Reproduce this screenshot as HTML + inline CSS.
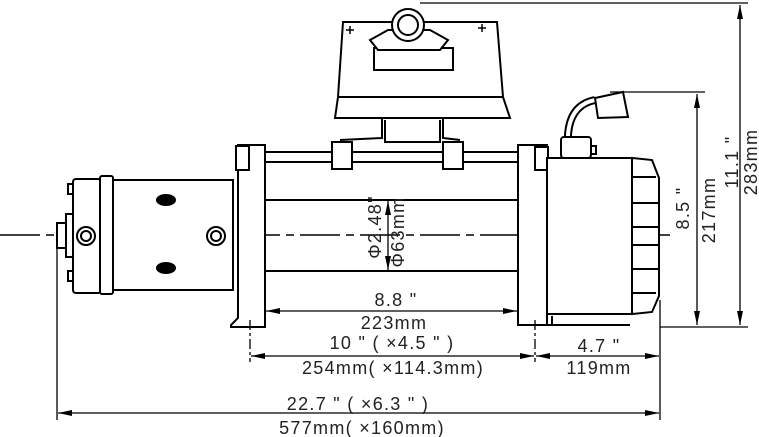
<!DOCTYPE html>
<html><head><meta charset="utf-8"><style>
html,body{margin:0;padding:0;background:#fff;}
svg{display:block;}
text{font-family:"Liberation Sans",sans-serif;font-size:18px;letter-spacing:1.3px;fill:#222;}
</style></head><body>
<svg width="759" height="437" viewBox="0 0 759 437" xmlns="http://www.w3.org/2000/svg">
<defs>
<marker id="a" markerWidth="14" markerHeight="6" refX="14" refY="3" orient="auto" markerUnits="userSpaceOnUse"><path d="M0,0 L14,3 L0,6 Z" fill="#000"/></marker>
<marker id="b" markerWidth="14" markerHeight="6" refX="0" refY="3" orient="auto" markerUnits="userSpaceOnUse"><path d="M14,0 L0,3 L14,6 Z" fill="#000"/></marker>
</defs>
<g stroke="#000" stroke-width="2" fill="#fff">
<line x1="0" y1="235" x2="670" y2="235" stroke-width="1.5" stroke-dasharray="40,6,8,6"/>
<rect x="57" y="223" width="11" height="25"/>
<rect x="66" y="214" width="8" height="43"/>
<rect x="68" y="184" width="6" height="10"/>
<rect x="68" y="271" width="6" height="10"/>
<rect x="73" y="179" width="28" height="114" rx="3"/>
<rect x="100" y="176" width="13" height="118" rx="2"/>
<rect x="113" y="180" width="120" height="110"/>
<circle cx="86" cy="236" r="9"/><circle cx="86" cy="236" r="5"/>
<circle cx="216" cy="236" r="9"/><circle cx="216" cy="236" r="5"/>
<ellipse cx="166" cy="200" rx="9" ry="5" fill="#000"/>
<ellipse cx="166" cy="268" rx="9" ry="5" fill="#000"/>
<line x1="265" y1="152" x2="520" y2="152"/>
<line x1="265" y1="162" x2="520" y2="162"/>
<rect x="332" y="142" width="20" height="27"/>
<rect x="443" y="142" width="20" height="27"/>
<line x1="265" y1="200" x2="518" y2="200"/>
<line x1="265" y1="271" x2="518" y2="271"/>
<path d="M238,170 L238,318 L231,325 L231,327 L265,327 L265,145 L238,145 Z"/>
<rect x="236" y="146" width="13" height="24"/>
<rect x="518" y="145" width="29" height="180"/>
<rect x="535" y="147" width="13" height="23"/>
<path d="M568,150 L568,135 Q570,105 595,100" fill="none" stroke-width="8"/>
<path d="M568,150 L568,135 Q570,105 595,100" fill="none" stroke="#fff" stroke-width="4"/>
<path d="M595,98 L623,92 L628,117 L598,118 Z"/>
<rect x="561" y="137" width="30" height="21" rx="3"/>
<rect x="591" y="146" width="5" height="8"/>
<rect x="547" y="158" width="85" height="156"/>
<line x1="552" y1="316" x2="552" y2="325"/>
<line x1="547" y1="325" x2="630" y2="325"/>
<path d="M632,158 L652,160 L659,178 L659,296 L652,312 L632,314 Z"/>
<g fill="none">
<line x1="632" y1="177" x2="656" y2="177"/><line x1="632" y1="203" x2="658" y2="203"/>
<line x1="632" y1="227" x2="658" y2="227"/><line x1="632" y1="245" x2="658" y2="245"/>
<line x1="632" y1="269" x2="658" y2="269"/><line x1="632" y1="293" x2="656" y2="293"/>
</g>
<path d="M382,118 L382,138 L340,140 M443,118 L443,138 L460,140" fill="none"/>
<path d="M385,120 L385,142 L440,142 L440,120" fill="none"/>
<path d="M343,22 L497,22 L503,97 L510,118 L335,118 L338,97 Z"/>
<line x1="338" y1="97" x2="503" y2="97"/>
<rect x="374" y="48" width="79" height="22"/>
<path d="M370,40 L388,30 L430,30 L448,40 L440,50 L378,50 Z"/>
<circle cx="408" cy="25" r="16"/>
<circle cx="408" cy="25" r="10"/>
<path d="M346,30 l8,0 M350,26 l0,8 M478,28 l8,0 M482,24 l0,8" stroke-width="1.5"/>
</g>
<g stroke="#000" stroke-width="1.3" fill="none">
<line x1="420" y1="3" x2="748" y2="3"/>
<line x1="610" y1="92" x2="705" y2="92"/>
<line x1="660" y1="327" x2="748" y2="327"/>
<line x1="740" y1="5" x2="740" y2="325" marker-start="url(#b)" marker-end="url(#a)"/>
<line x1="697" y1="94" x2="697" y2="325" marker-start="url(#b)" marker-end="url(#a)"/>
<line x1="388" y1="201" x2="388" y2="270" marker-start="url(#b)" marker-end="url(#a)"/>
<line x1="266" y1="311" x2="517" y2="311" marker-start="url(#b)" marker-end="url(#a)"/>
<line x1="250" y1="320" x2="250" y2="362" stroke-dasharray="10,3,3,3"/>
<line x1="535" y1="320" x2="535" y2="362" stroke-dasharray="10,3,3,3"/>
<line x1="660" y1="300" x2="660" y2="420"/>
<line x1="57" y1="248" x2="57" y2="420"/>
<line x1="251" y1="356" x2="534" y2="356" marker-start="url(#b)" marker-end="url(#a)"/>
<line x1="536" y1="356" x2="659" y2="356" marker-start="url(#b)" marker-end="url(#a)"/>
<line x1="58" y1="413" x2="659" y2="413" marker-start="url(#b)" marker-end="url(#a)"/>
</g>
<g text-anchor="middle">
<text x="396" y="306">8.8 "</text>
<text x="394" y="329">223mm</text>
<text x="392" y="349">10 " ( ×4.5 " )</text>
<text x="393" y="374">254mm( ×114.3mm)</text>
<text x="599" y="352">4.7 "</text>
<text x="599" y="374">119mm</text>
<text x="358" y="410">22.7 " ( ×6.3 " )</text>
<text x="362" y="434">577mm( ×160mm)</text>
<text transform="translate(381,227) rotate(-90)">Φ2.48"</text>
<text transform="translate(404,232) rotate(-90)">Φ63mm</text>
<text transform="translate(689,208) rotate(-90)">8.5 "</text>
<text transform="translate(715,210) rotate(-90)">217mm</text>
<text transform="translate(738,162) rotate(-90)">11.1 "</text>
<text transform="translate(757,162) rotate(-90)">283mm</text>
</g>
</svg>
</body></html>
